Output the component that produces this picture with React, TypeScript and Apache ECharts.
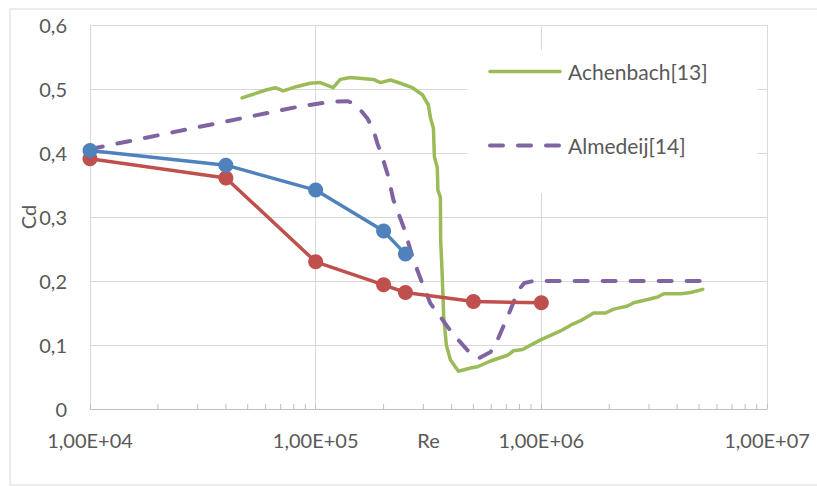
import React, { useEffect, useRef } from "react";
import * as echarts from "echarts";

// ---- data ----
const blueRe = [1e4, 4e4, 1e5, 2e5, 2.5e5];
const blueCd = [0.404, 0.381, 0.342, 0.278, 0.242];

const redRe = [1e4, 4e4, 1e5, 2e5, 2.5e5, 5e5, 1e6];
const redCd = [0.391, 0.361, 0.23, 0.194, 0.182, 0.168, 0.166];

const achenbachRe = [
  47200, 59700, 66200, 71800, 82800, 94600, 104800, 119600, 128500, 142500,
  180300, 193700, 214400, 237400, 268300, 297200, 316000, 322500, 332400, 335900,
  346000, 348000, 357000, 358000, 363400, 369300, 379400, 395300, 429200, 485600,
  521600, 595700, 708200, 753000, 825400, 991700, 1216000, 1348000, 1493000, 1706000,
  1928000, 2091000, 2412000, 2564000, 2958000, 3280000, 3486000, 4147000, 4592000, 5191000,
];
const achenbachCd = [
  0.486, 0.498, 0.502, 0.497, 0.504, 0.509, 0.51, 0.502, 0.515, 0.518,
  0.515, 0.51, 0.514, 0.509, 0.502, 0.491, 0.475, 0.455, 0.439, 0.394,
  0.377, 0.342, 0.331, 0.264, 0.2125, 0.144, 0.1, 0.077, 0.059, 0.064,
  0.066, 0.075, 0.084, 0.091, 0.093, 0.108, 0.122, 0.131, 0.138, 0.15,
  0.15, 0.156, 0.161, 0.166, 0.171, 0.175, 0.18, 0.18, 0.182, 0.187,
];

const almedeijRe = [
  10000, 85500, 116200, 138200, 146900, 153000, 169500, 180300, 187700, 197400,
  209900, 220900, 244800, 271300, 297200, 322500, 357000, 403600, 470500, 526600,
  595700, 640000, 730000, 792000, 842000, 922000, 5810000,
];
const almedeijCd = [
  0.406, 0.473, 0.48, 0.481, 0.478, 0.473, 0.454, 0.436, 0.415, 0.394,
  0.363, 0.327, 0.285, 0.233, 0.196, 0.165, 0.144, 0.118, 0.092, 0.079,
  0.089, 0.108, 0.155, 0.186, 0.197, 0.2, 0.2,
];

const xTickLabels = ["1,00E+04", "1,00E+05", "1,00E+06", "1,00E+07"];
const yTickLabels = ["0", "0,1", "0,2", "0,3", "0,4", "0,5", "0,6"];
const minorTicks = [
  2e4, 3e4, 4e4, 5e4, 6e4, 7e4, 8e4, 9e4,
  2e5, 3e5, 4e5, 5e5, 6e5, 7e5, 8e5, 9e5,
  2e6, 3e6, 4e6, 5e6, 6e6, 7e6, 8e6, 9e6,
];

const zip = (xs: number[], ys: number[]) => xs.map((x, i) => [x, ys[i]]);

const FONT = "Lato";
const TXT = "#595959";

export default function App() {
  const ref = useRef<HTMLDivElement>(null);
  useEffect(() => {
    if (!ref.current) return;
    const chart = echarts.init(ref.current, undefined, { renderer: "svg" });
    chart.setOption({
      animation: false,
      textStyle: { fontFamily: FONT },
      graphic: [
        {
          type: "rect",
          shape: { x: 10, y: 9, width: 830, height: 476 },
          style: { fill: "none", stroke: "#d9d9d9", lineWidth: 1 },
          z: -10,
          silent: true,
        },
      ],
      grid: { left: 90, right: 50, top: 25, bottom: 77 },
      legend: {
        data: [
          { name: "Achenbach[13]", lineStyle: { width: 3.5, cap: "round" } },
          { name: "Almedeij[14]", lineStyle: { width: 4, type: [13, 15], cap: "round" } },
        ],
        orient: "vertical",
        left: 467,
        top: 50,
        padding: [11, 50, 37, 21],
        backgroundColor: "#ffffff",
        itemWidth: 70,
        itemHeight: 24,
        itemGap: 53,
        itemStyle: { opacity: 0 },
        textStyle: { fontFamily: FONT, fontSize: 21, color: TXT, padding: [0, 0, 0, 3] },
      },
      xAxis: {
        type: "log",
        logBase: 10,
        min: 1e4,
        max: 1e7,
        name: "Re",
        nameLocation: "middle",
        nameGap: 21,
        nameMoveOverlap: false,
        nameTextStyle: { fontFamily: FONT, fontSize: 20, color: TXT, verticalAlign: "top" },
        axisLine: { show: true, lineStyle: { color: "#bfbfbf", width: 1 } },
        axisTick: { show: true, inside: true, length: 5, lineStyle: { color: "#bfbfbf" } },
        axisLabel: {
          fontFamily: FONT,
          fontSize: 20,
          color: TXT,
          margin: 21,
          formatter: (v: number) => xTickLabels[Math.round(Math.log10(v)) - 4] ?? "",
        },
        splitLine: { show: true, lineStyle: { color: "#d9d9d9", width: 1 } },
      },
      yAxis: {
        type: "value",
        min: 0,
        max: 0.6,
        interval: 0.1,
        name: "Cd",
        nameLocation: "middle",
        nameRotate: 90,
        nameGap: 52,
        nameMoveOverlap: false,
        nameTextStyle: { fontFamily: FONT, fontSize: 20, color: TXT },
        axisLine: { show: true, lineStyle: { color: "#d9d9d9", width: 1 } },
        axisTick: { show: false },
        axisLabel: {
          fontFamily: FONT,
          fontSize: 20,
          color: TXT,
          margin: 23,
          formatter: (v: number) => yTickLabels[Math.round(v * 10)] ?? "",
        },
        splitLine: { show: true, lineStyle: { color: "#d9d9d9", width: 1 } },
      },
      series: [
        {
          type: "custom",
          silent: true,
          data: minorTicks.map((v) => [v, 0]),
          renderItem: (_p: any, api: any) => {
            const pt = api.coord([api.value(0), 0]);
            return {
              type: "line",
              shape: { x1: pt[0], y1: pt[1], x2: pt[0], y2: pt[1] - 5 },
              style: { stroke: "#bfbfbf", lineWidth: 1 },
            };
          },
          z: 1,
        },
        {
          name: "Achenbach[13]",
          type: "line",
          data: zip(achenbachRe, achenbachCd),
          showSymbol: false,
          symbol: "none",
          lineStyle: { color: "#9BBB59", width: 3.5, cap: "round", join: "round" },
          itemStyle: { color: "#9BBB59" },
          z: 2,
        },
        {
          name: "Almedeij[14]",
          type: "line",
          data: zip(almedeijRe, almedeijCd),
          showSymbol: false,
          symbol: "none",
          lineStyle: { color: "#8064A2", width: 4, type: [13, 15], cap: "round", join: "round" },
          itemStyle: { color: "#8064A2" },
          z: 2,
        },
        {
          name: "Serie2",
          type: "line",
          data: zip(redRe, redCd),
          symbol: "circle",
          symbolSize: 15,
          lineStyle: { color: "#C0504D", width: 3.5 },
          itemStyle: { color: "#C0504D" },
          z: 3,
        },
        {
          name: "Serie1",
          type: "line",
          data: zip(blueRe, blueCd),
          symbol: "circle",
          symbolSize: 15,
          lineStyle: { color: "#4F81BD", width: 3.5 },
          itemStyle: { color: "#4F81BD" },
          z: 4,
        },
      ],
    });
    return () => chart.dispose();
  }, []);
  return <div ref={ref} style={{ width: 817, height: 486, position: "absolute", left: 0, top: 0 }} />;
}
